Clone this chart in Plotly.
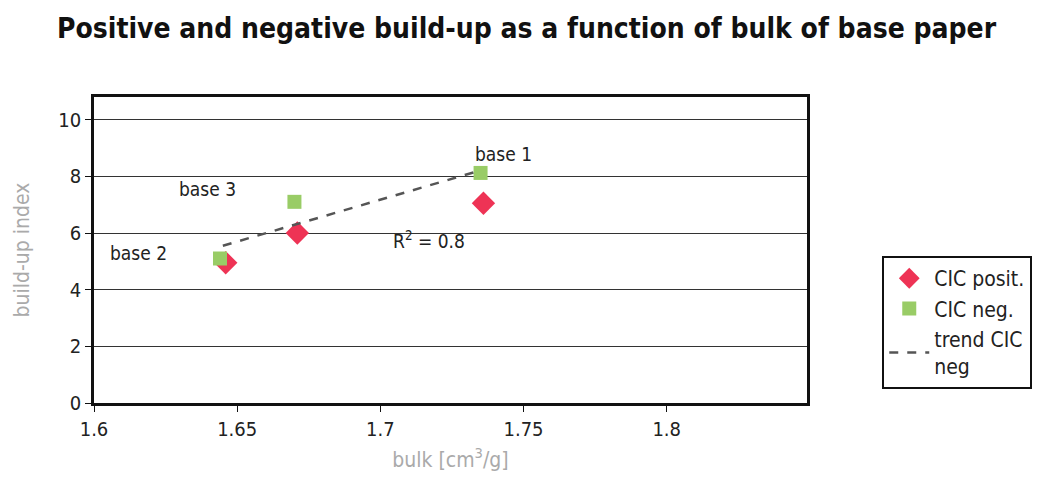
import plotly.graph_objects as go

# data
pos_bulk = [1.646, 1.671, 1.736]
pos_index = [4.95, 6.0, 7.05]
neg_bulk = [1.644, 1.670, 1.735]
neg_index = [5.1, 7.1, 8.12]
trend_bulk = [1.645, 1.733]
trend_index = [5.55, 8.15]

label_text = ["base 1", "base 3", "base 2"]
label_bulk = [1.743, 1.6395, 1.6155]
label_index = [8.78, 7.55, 5.3]

x_ticks = [1.6, 1.65, 1.7, 1.75, 1.8]
y_ticks = [0, 2, 4, 6, 8, 10]

FONT = "DejaVu Sans Condensed"

fig = go.Figure()
fig.add_trace(go.Scatter(
    x=pos_bulk, y=pos_index, mode="markers", name="CIC posit.",
    marker=dict(symbol="diamond", size=18, color="#EE3355"),
))
fig.add_trace(go.Scatter(
    x=neg_bulk, y=neg_index, mode="markers", name="CIC neg.",
    marker=dict(symbol="square", size=14, color="#99CC66"),
))
fig.add_trace(go.Scatter(
    x=trend_bulk, y=trend_index, mode="lines", name="trend CIC<br>neg",
    line=dict(color="#555555", width=2.5, dash="dash"),
))

for t, xv, yv in zip(label_text, label_bulk, label_index):
    fig.add_annotation(x=xv, y=yv, text=t, showarrow=False,
                       font=dict(family=FONT, size=19, color="#222222"))
fig.add_annotation(x=1.717, y=5.75, text="R<sup>2</sup> = 0.8", showarrow=False,
                   font=dict(family=FONT, size=19, color="#222222"))

# page body has an 8px margin, so the figure is a bit smaller than the window
fig.update_layout(
    width=1035, height=474,
    margin=dict(l=86, r=235, t=89, b=79),
    paper_bgcolor="white", plot_bgcolor="white",
    font=dict(family=FONT, size=19, color="#222222"),
    title=dict(text="<b>Positive and negative build-up as a function of bulk of base paper</b>",
               x=0.501, xanchor="center", y=0.958, yanchor="middle",
               font=dict(family=FONT, size=28, color="#111111")),
    showlegend=True,
    legend=dict(x=1.104, y=0.48, xanchor="left", yanchor="top",
                bordercolor="#111111", borderwidth=2, bgcolor="white",
                font=dict(family=FONT, size=21, color="#222222"),
                itemwidth=40, tracegroupgap=10),
)
fig.update_xaxes(
    range=[1.6, 1.849], tickvals=x_ticks, ticktext=[str(v) for v in x_ticks],
    showgrid=False, zeroline=False, showline=True, linecolor="#111111", linewidth=2.5,
    mirror=True, ticks="outside", ticklen=6, tickcolor="#111111", automargin=False,
    tickfont=dict(size=20),
    title=dict(text="bulk [cm<sup>3</sup>/g]", font=dict(family=FONT, size=21, color="#AAAAAA"),
               standoff=13),
)
fig.update_yaxes(
    range=[0, 10.8], tickvals=y_ticks,
    showgrid=True, gridcolor="#333333", gridwidth=1, zeroline=False,
    showline=True, linecolor="#111111", linewidth=2.5, mirror=True,
    ticks="outside", ticklen=6, tickcolor="#111111", automargin=False,
    tickfont=dict(size=20),
    title=dict(text="build-up index", font=dict(family=FONT, size=21, color="#AAAAAA"),
               standoff=24),
)

fig.write_html("out.html")
